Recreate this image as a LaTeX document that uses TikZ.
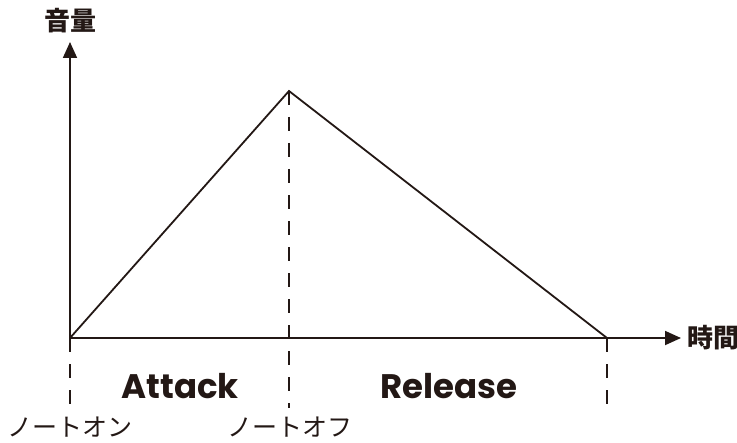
\documentclass[tikz,border=0pt]{standalone}
\usepackage{fontspec}
\newfontfamily\jpfont{Noto Sans CJK JP}
\newfontfamily\labfont{Poppins}
\usetikzlibrary{positioning,arrows.meta}
\definecolor{ink}{HTML}{231815}

\begin{document}
\begin{tikzpicture}[x=0.5pt, y=-0.5pt, line width=0.9pt, draw=ink, text=ink,
  axis/.style={-{Triangle[length=8pt, width=7pt]}},
  guide/.style={dash pattern=on 7pt off 6pt},
  jp/.style={font=\jpfont\fontsize{12.5pt}{14pt}\selectfont, inner sep=0pt},
  axlabel/.style={font=\jpfont\bfseries\fontsize{13pt}{15pt}\selectfont, inner sep=0pt},
  phase/.style={font=\labfont\bfseries\fontsize{17pt}{20pt}\selectfont, inner sep=0pt}]
\useasboundingbox (0,0) rectangle (737,443);
\coordinate (o) at (70,338);
\coordinate (top) at (70,42);
\coordinate (xend) at (681,338);
\coordinate (peak) at (289,91);
\coordinate (rel) at (607,338);
\coordinate (on) at (70,408);
\coordinate (off) at (289,408);
\coordinate (rend) at (607,408);
% axes
\draw[axis] (o) -- (top);
\draw[axis] (o) -- (xend);
\node[axlabel, above=4pt of top] (vol) {音量};
\node[axlabel, right=3pt of xend] (time) {時間};
% envelope
\draw (o) -- (peak) -- (rel);
% guides
\draw[guide] (o) -- (on);
\draw[guide] (peak) -- (off);
\draw[guide] (rel) -- (rend);
\node[phase] (atk) at (180,386) {Attack};
\node[phase] (rls) at (449,386) {Release};
\node[jp] (non) at (70,427) {ノートオン};
\node[jp] (noff) at (290,427) {ノートオフ};
\end{tikzpicture}
\end{document}
